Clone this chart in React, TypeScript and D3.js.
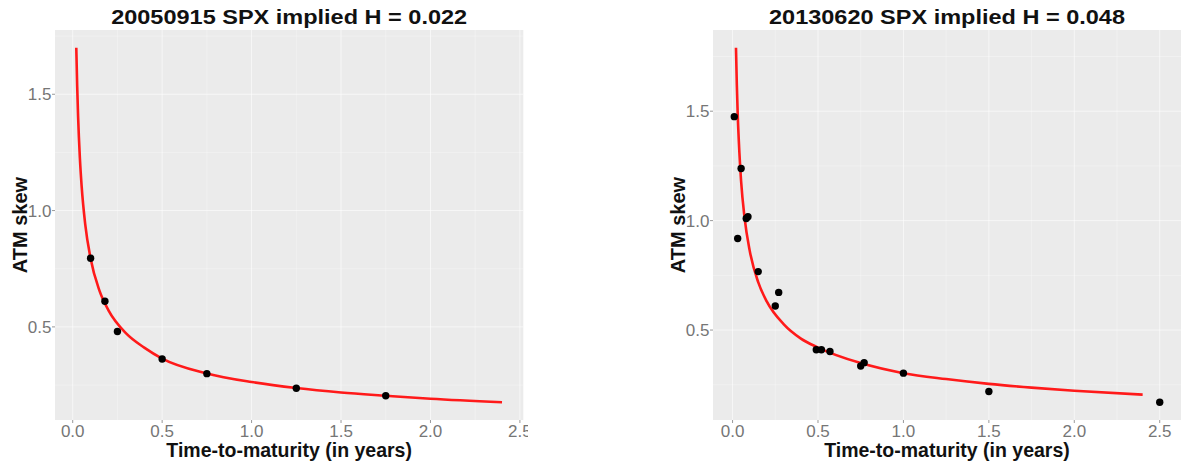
import React, { useEffect, useRef } from 'react';
import * as d3 from 'd3';

// 2005-09-15 SPX term structure of ATM skew
const leftTitle = '20050915 SPX implied H = 0.022';
const leftT = [0.1, 0.18, 0.25, 0.5, 0.75, 1.25, 1.75];
const leftSkew = [0.795, 0.61, 0.48, 0.362, 0.299, 0.236, 0.204];
const leftFitT = [0.02, 0.025, 0.03, 0.04, 0.05, 0.07, 0.1, 0.15, 0.2, 0.3, 0.4, 0.5, 0.75, 1.0, 1.25, 1.5, 1.75, 2.0, 2.4];
const leftFitSkew = [1.7, 1.535, 1.407, 1.227, 1.104, 0.941, 0.794, 0.655, 0.571, 0.471, 0.411, 0.364, 0.3, 0.263, 0.237, 0.218, 0.204, 0.191, 0.176];

// 2013-06-20 SPX
const rightTitle = '20130620 SPX implied H = 0.048';
const rightT = [0.01, 0.03, 0.05, 0.08, 0.09, 0.15, 0.25, 0.27, 0.49, 0.52, 0.57, 0.75, 0.77, 1.0, 1.5, 2.5];
const rightSkew = [1.475, 0.918, 1.238, 1.01, 1.018, 0.767, 0.61, 0.672, 0.41, 0.41, 0.402, 0.336, 0.351, 0.303, 0.219, 0.17];
const rightFitT = [0.02, 0.025, 0.03, 0.04, 0.05, 0.07, 0.1, 0.15, 0.2, 0.3, 0.4, 0.5, 0.75, 1.0, 1.25, 1.5, 1.75, 2.0, 2.4];
const rightFitSkew = [1.79, 1.62, 1.49, 1.31, 1.18, 1.015, 0.864, 0.719, 0.631, 0.526, 0.461, 0.42, 0.349, 0.303, 0.276, 0.254, 0.237, 0.223, 0.205];

const xTicks = [0, 0.5, 1, 1.5, 2, 2.5];
const xMinor = [0.25, 0.75, 1.25, 1.75, 2.25];
const yTicks = [0.5, 1, 1.5];
const yMinor = [0.25, 0.75, 1.25, 1.75];
const xLabel = 'Time-to-maturity (in years)';
const yLabel = 'ATM skew';

const W = 1181;
const H = 463;
const top = 30;
const bottom = 420;
const font = '"Liberation Sans", Arial, sans-serif';

const panels = [
  { title: leftTitle, t: leftT, s: leftSkew, ft: leftFitT, fs: leftFitSkew, x0: 55, x1: 523.3, clip: 528 },
  { title: rightTitle, t: rightT, s: rightSkew, ft: rightFitT, fs: rightFitSkew, x0: 713, x1: 1181, clip: W },
];

// ggplot-style 5% expansion
const expand = (vals: number[]) => {
  const [a, b] = d3.extent(vals) as [number, number];
  const pad = (b - a) * 0.05;
  return [a - pad, b + pad];
};

const App: React.FC = () => {
  const svgRef = useRef<SVGSVGElement>(null);

  useEffect(() => {
    if (!svgRef.current) return;
    const svg = d3.select(svgRef.current).html('');

    svg.append('rect').attr('width', W).attr('height', H).attr('fill', '#fff');

    panels.forEach((p, k) => {
      const x = d3.scaleLinear().domain(expand([...p.t, ...p.ft])).range([p.x0, p.x1]);
      const y = d3.scaleLinear().domain(expand([...p.s, ...p.fs])).range([bottom, top]);

      svg.append('clipPath').attr('id', `clip${k}`)
        .append('rect').attr('x', p.x0 - 60).attr('y', 0).attr('width', p.clip - p.x0 + 60).attr('height', H);
      const g = svg.append('g').attr('clip-path', `url(#clip${k})`);

      g.append('rect')
        .attr('x', p.x0).attr('y', top)
        .attr('width', p.x1 - p.x0).attr('height', bottom - top)
        .attr('fill', '#ebebeb');

      // minor grid
      g.selectAll('.vminor').data(xMinor).enter().append('line')
        .attr('x1', d => x(d)).attr('x2', d => x(d)).attr('y1', top).attr('y2', bottom)
        .attr('stroke', '#fff').attr('stroke-width', 0.6).attr('opacity', 0.5);
      g.selectAll('.hminor').data(yMinor.filter(v => v > y.domain()[0] && v < y.domain()[1])).enter().append('line')
        .attr('y1', d => y(d)).attr('y2', d => y(d)).attr('x1', p.x0).attr('x2', p.x1)
        .attr('stroke', '#fff').attr('stroke-width', 0.6).attr('opacity', 0.5);

      // major grid
      g.selectAll('.vmajor').data(xTicks).enter().append('line')
        .attr('x1', d => x(d)).attr('x2', d => x(d)).attr('y1', top).attr('y2', bottom)
        .attr('stroke', '#fff').attr('stroke-width', 1).attr('opacity', 0.6);
      g.selectAll('.hmajor').data(yTicks).enter().append('line')
        .attr('y1', d => y(d)).attr('y2', d => y(d)).attr('x1', p.x0).attr('x2', p.x1)
        .attr('stroke', '#fff').attr('stroke-width', 1).attr('opacity', 0.6);

      // ticks
      g.selectAll('.xt').data(xTicks).enter().append('line')
        .attr('x1', d => x(d)).attr('x2', d => x(d)).attr('y1', bottom).attr('y2', bottom + 3)
        .attr('stroke', '#999').attr('stroke-width', 1);
      g.selectAll('.yt').data(yTicks).enter().append('line')
        .attr('y1', d => y(d)).attr('y2', d => y(d)).attr('x1', p.x0 - 3).attr('x2', p.x0)
        .attr('stroke', '#999').attr('stroke-width', 1);

      g.selectAll('.xl').data(xTicks).enter().append('text')
        .attr('x', d => x(d)).attr('y', 437)
        .attr('text-anchor', 'middle')
        .style('font', `17px ${font}`).attr('fill', '#767676')
        .text(d => d.toFixed(1));
      g.selectAll('.yl').data(yTicks).enter().append('text')
        .attr('x', p.x0 - 3.5).attr('y', d => y(d)).attr('dy', '0.36em')
        .attr('text-anchor', 'end')
        .style('font', `17px ${font}`).attr('fill', '#767676')
        .text(d => d.toFixed(1));

      // fitted power-law curve
      const line = d3.line<number>()
        .x((d, i) => x(p.ft[i]))
        .y(d => y(d))
        .curve(d3.curveMonotoneX);
      g.append('path')
        .datum(p.fs)
        .attr('d', line)
        .attr('fill', 'none')
        .attr('stroke', '#ff1a1a')
        .attr('stroke-width', 2.6);

      g.selectAll('.pt').data(p.s).enter().append('circle')
        .attr('cx', (d, i) => x(p.t[i])).attr('cy', d => y(d))
        .attr('r', 3.7).attr('fill', '#000');

      const cx = (p.x0 + p.x1) / 2;
      g.append('text')
        .attr('x', cx).attr('y', 23.5)
        .attr('text-anchor', 'middle')
        .attr('textLength', 356).attr('lengthAdjust', 'spacingAndGlyphs')
        .style('font', `bold 21px ${font}`).attr('fill', '#111')
        .text(p.title);
      g.append('text')
        .attr('x', cx).attr('y', 457)
        .attr('text-anchor', 'middle')
        .style('font', `bold 19.5px ${font}`).attr('fill', '#111')
        .text(xLabel);
      g.append('text')
        .attr('transform', `translate(${p.x0 - 28.5},${(top + bottom) / 2}) rotate(-90)`)
        .attr('text-anchor', 'middle')
        .style('font', `bold 20px ${font}`).attr('fill', '#111')
        .text(yLabel);
    });
  }, []);

  return (
    <svg ref={svgRef} width={W} height={H}
      style={{ position: 'absolute', left: 0, top: 0, display: 'block' }} />
  );
};

export default App;
